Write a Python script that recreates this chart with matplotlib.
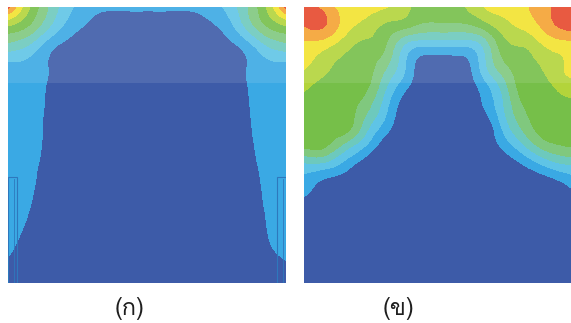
import numpy as np
import matplotlib
matplotlib.use("Agg")
import matplotlib.pyplot as plt
import matplotlib.tri as mtri
from matplotlib import font_manager
from matplotlib.patches import Rectangle

# Node positions of the sampled field (px across / down each panel)
grid_x = [0, 20, 40, 60, 80, 100, 120, 140, 160, 180, 200, 220, 240, 260, 278]
grid_y = [0, 20, 40, 60, 80, 100, 120, 140, 160, 180, 200, 220, 240, 260, 276]

# Panel (ก): band index of the field at each node (rows top -> bottom)
field_a = [
    [9.3, 6.2, 4.0, 2.3, 1.5, 1.25, 1.25, 1.25, 1.25, 1.25, 1.5, 2.3, 4.0, 6.2, 9.3],
    [5.8, 4.9, 3.1, 1.6, 0.8, 0.3, 0.3, 0.3, 0.3, 0.3, 0.7, 1.5, 3.3, 5.0, 5.8],
    [3.5, 2.8, 1.4, 0.6, 0.3, 0.3, 0.3, 0.3, 0.3, 0.3, 0.3, 0.6, 1.5, 2.9, 3.5],
    [1.7, 1.65, 1.0, 0.3, 0.3, 0.3, 0.3, 0.3, 0.3, 0.3, 0.3, 0.3, 1.05, 1.7, 1.7],
    [1.7, 1.6, 0.9, 0.3, 0.3, 0.3, 0.3, 0.3, 0.3, 0.3, 0.3, 0.3, 1.0, 1.7, 1.7],
    [1.7, 1.7, 0.8, 0.3, 0.3, 0.3, 0.3, 0.3, 0.3, 0.3, 0.3, 0.3, 0.9, 1.7, 1.7],
    [1.7, 1.7, 0.7, 0.3, 0.3, 0.3, 0.3, 0.3, 0.3, 0.3, 0.3, 0.3, 0.8, 1.7, 1.7],
    [1.7, 1.65, 0.65, 0.3, 0.3, 0.3, 0.3, 0.3, 0.3, 0.3, 0.3, 0.3, 0.65, 1.65, 1.7],
    [1.7, 1.5, 0.5, 0.3, 0.3, 0.3, 0.3, 0.3, 0.3, 0.3, 0.3, 0.3, 0.5, 1.5, 1.7],
    [1.7, 1.35, 0.35, 0.3, 0.3, 0.3, 0.3, 0.3, 0.3, 0.3, 0.3, 0.3, 0.35, 1.35, 1.7],
    [1.7, 1.1, 0.3, 0.3, 0.3, 0.3, 0.3, 0.3, 0.3, 0.3, 0.3, 0.3, 0.3, 1.2, 1.7],
    [1.7, 0.8, 0.3, 0.3, 0.3, 0.3, 0.3, 0.3, 0.3, 0.3, 0.3, 0.3, 0.3, 1.05, 1.7],
    [1.4, 0.4, 0.3, 0.3, 0.3, 0.3, 0.3, 0.3, 0.3, 0.3, 0.3, 0.3, 0.3, 0.8, 1.7],
    [0.6, 0.3, 0.3, 0.3, 0.3, 0.3, 0.3, 0.3, 0.3, 0.3, 0.3, 0.3, 0.3, 0.3, 0.6],
    [0.3, 0.3, 0.3, 0.3, 0.3, 0.3, 0.3, 0.3, 0.3, 0.3, 0.3, 0.3, 0.3, 0.3, 0.3],
]

# Panel (ข): band index of the field at each node (rows top -> bottom)
field_b = [
    [9.6, 8.6, 7.6, 7.4, 7.1, 6.3, 5.6, 5.5, 5.9, 7.0, 7.4, 7.85, 8.6, 9.5, 9.8],
    [8.9, 9.0, 7.5, 6.6, 5.8, 5.2, 4.6, 4.6, 4.6, 5.3, 6.5, 7.2, 8.2, 9.2, 9.5],
    [7.7, 7.2, 6.3, 5.7, 5.1, 2.8, 1.9, 1.9, 1.9, 3.1, 5.5, 6.0, 6.9, 7.4, 7.6],
    [7.1, 6.3, 5.7, 5.5, 4.26, 2.16, 0.3, 0.3, 0.47, 2.58, 4.68, 5.6, 6.1, 7.0, 7.2],
    [6.2, 5.6, 5.5, 5.3, 3.3, 1.3, 0.3, 0.3, 0.3, 1.5, 3.5, 5.5, 5.7, 6.4, 6.6],
    [5.5, 5.5, 5.5, 4.5, 2.5, 0.5, 0.3, 0.3, 0.3, 1.02, 3.0, 5.0, 5.5, 5.6, 5.7],
    [5.4, 5.4, 5.5, 3.6, 1.6, 0.3, 0.3, 0.3, 0.3, 0.3, 2.3, 4.3, 5.5, 5.5, 5.5],
    [5.1, 5.08, 3.54, 2.0, 0.46, 0.3, 0.3, 0.3, 0.3, 0.3, 1.23, 2.77, 4.3, 4.9, 5.1],
    [2.5, 2.3, 1.43, 0.4, 0.3, 0.3, 0.3, 0.3, 0.3, 0.3, 0.3, 0.86, 1.81, 2.6, 2.8],
    [1.55, 0.55, 0.3, 0.3, 0.3, 0.3, 0.3, 0.3, 0.3, 0.3, 0.3, 0.3, 0.3, 0.75, 1.6],
    [0.3, 0.3, 0.3, 0.3, 0.3, 0.3, 0.3, 0.3, 0.3, 0.3, 0.3, 0.3, 0.3, 0.3, 0.3],
    [0.3, 0.3, 0.3, 0.3, 0.3, 0.3, 0.3, 0.3, 0.3, 0.3, 0.3, 0.3, 0.3, 0.3, 0.3],
    [0.3, 0.3, 0.3, 0.3, 0.3, 0.3, 0.3, 0.3, 0.3, 0.3, 0.3, 0.3, 0.3, 0.3, 0.3],
    [0.3, 0.3, 0.3, 0.3, 0.3, 0.3, 0.3, 0.3, 0.3, 0.3, 0.3, 0.3, 0.3, 0.3, 0.3],
    [0.3, 0.3, 0.3, 0.3, 0.3, 0.3, 0.3, 0.3, 0.3, 0.3, 0.3, 0.3, 0.3, 0.3, 0.3],
]

band_levels = [-20, 1, 2, 3, 4, 5, 6, 7, 8, 9, 20]
band_colors = ["#3d5ba8", "#3aa9e4", "#5fc4e6", "#6dc9bd", "#80c87e",
               "#76bf49", "#b3d43b", "#f2e32e", "#f4a232", "#e6482c"]
panel_labels = ["(ก)", "(ข)"]


def thai_family():
    """Return the name of an installed font that covers Thai, if any."""
    try:
        from fontTools.ttLib import TTFont
    except ImportError:
        return None
    for entry in font_manager.fontManager.ttflist:
        try:
            font = TTFont(entry.fname, fontNumber=0, lazy=True)
            cmap = font.getBestCmap()
            if cmap and 0x0E01 in cmap and 0x0E02 in cmap:
                return entry.name
        except Exception:
            continue
    return None


def grid_triangulation(xs, ys):
    """Split every grid cell in two, diagonals mirrored about the centre."""
    nx, ny = len(xs), len(ys)
    X, Y = np.meshgrid(xs, ys)
    tris = []
    for j in range(ny - 1):
        for i in range(nx - 1):
            a = j * nx + i
            b, c, d = a + 1, a + nx, a + nx + 1
            if (i < (nx - 1) / 2) == (j < (ny - 1) / 2):
                tris += [[a, b, d], [a, d, c]]
            else:
                tris += [[a, b, c], [b, d, c]]
    return mtri.Triangulation(X.ravel().astype(float), Y.ravel().astype(float),
                              np.array(tris))


thai = thai_family()
label_family = [thai, "DejaVu Sans"] if thai else ["DejaVu Sans"]

W, H = 571, 323
fig = plt.figure(figsize=(W / 100, H / 100), dpi=100)
fig.patch.set_facecolor("white")

panel_w, panel_h = 278, 276
panel_top = 7
panel_lefts = [8, 304]

triang = grid_triangulation(grid_x, grid_y)
refiner = mtri.UniformTriRefiner(triang)

for left, field in zip(panel_lefts, [field_a, field_b]):
    ax = fig.add_axes([left / W, (H - panel_top - panel_h) / H,
                       panel_w / W, panel_h / H])
    z = np.array(field, dtype=float).ravel()
    interp = mtri.CubicTriInterpolator(triang, z, kind="min_E")
    fine_tri, fine_z = refiner.refine_field(z, triinterpolator=interp, subdiv=3)
    ax.tricontourf(fine_tri, fine_z, levels=band_levels, colors=band_colors)
    ax.set_xlim(0, panel_w)
    ax.set_ylim(panel_h, 0)
    ax.set_axis_off()
    if left == panel_lefts[0]:
        # slim inserts standing on the floor at both side walls
        for x0 in (0, 269):
            ax.add_patch(Rectangle((x0, 170), 9, 106, fill=False,
                                   edgecolor="#2e78bd", linewidth=0.8))
            ax.plot([x0 + 6, x0 + 6], [172, 276], color="#2e78bd", lw=0.6)

# light veil over the upper strip of both panels
fig.patches.append(Rectangle((0, (H - 83) / H), 1, (83 - panel_top) / H,
                             transform=fig.transFigure, facecolor="white",
                             alpha=0.1, edgecolor="none", zorder=5))

label_centres = [130, 398]
for cx, text in zip(label_centres, panel_labels):
    fig.text(cx / W, 1 - 309 / H, text, ha="center", va="center",
             fontsize=17, family=label_family, color="#1e1e1e")

fig.savefig("out.png", dpi=100)
